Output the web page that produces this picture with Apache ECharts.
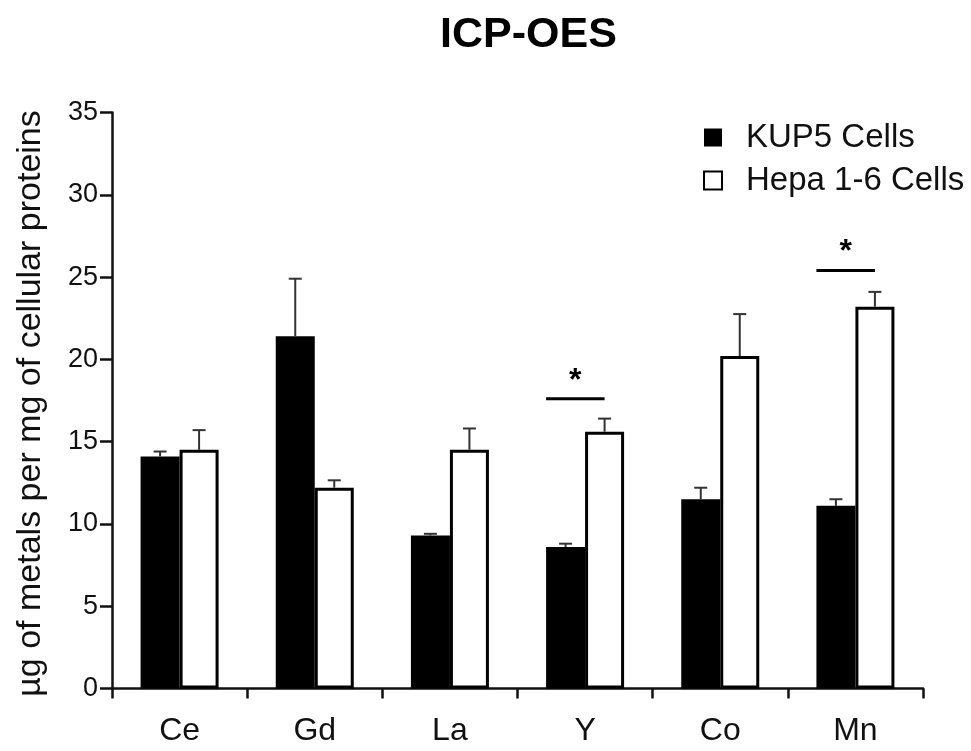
<!DOCTYPE html>
<html>
<head>
<meta charset="utf-8">
<title>ICP-OES</title>
<script src="https://cdn.jsdelivr.net/npm/echarts@6/dist/echarts.min.js"></script>
<style>
  html, body { margin: 0; padding: 0; background: #fff; }
  #chart { width: 971px; height: 751px; }
</style>
</head>
<body>
<div id="chart"></div>
<script>
const categories = ['Ce', 'Gd', 'La', 'Y', 'Co', 'Mn'];
const kup5Values = [14.1, 21.4, 9.3, 8.6, 11.5, 11.1];
const kup5Sd = [0.3, 3.5, 0.1, 0.2, 0.7, 0.4];
const hepaValues = [14.5, 12.2, 14.5, 15.6, 20.2, 23.2];
const hepaSd = [1.2, 0.45, 1.3, 0.8, 2.55, 0.9];
// significance bars: category and height of the bar
const sigCategories = ['Y', 'Mn'];
const sigValues = [17.6, 25.4];

const FONT = '"Liberation Sans", Arial, sans-serif';
const BAR_W = 39;

const chart = echarts.init(document.getElementById('chart'), null, { renderer: 'canvas' });

function errorBars(offset) {
  return function (params, api) {
    const i = api.value(0);
    const v = api.value(1);
    const sd = api.value(2);
    const base = api.coord([i, v]);
    const top = api.coord([i, v + sd]);
    const x = base[0] + offset;
    const style = { stroke: '#333', lineWidth: 2 };
    return {
      type: 'group',
      children: [
        { type: 'line', shape: { x1: x, y1: base[1], x2: x, y2: top[1] }, style },
        { type: 'line', shape: { x1: x - 6.5, y1: top[1], x2: x + 6.5, y2: top[1] }, style },
      ],
    };
  };
}

function sigBar(params, api) {
  const p = api.coord([api.value(0), api.value(1)]);
  const x1 = p[0] - BAR_W;
  const x2 = p[0] + BAR_W / 2;
  return {
    type: 'group',
    children: [
      { type: 'line', shape: { x1, y1: p[1], x2, y2: p[1] }, style: { stroke: '#000', lineWidth: 3 } },
      {
        type: 'text',
        x: (x1 + x2) / 2,
        y: p[1] - 18,
        style: { text: '*', font: 'bold 32px ' + FONT, align: 'center', verticalAlign: 'middle', fill: '#000' },
      },
    ],
  };
}

const option = {
  animation: false,
  backgroundColor: '#fff',
  title: {
    text: 'ICP-OES',
    left: 435,
    top: 9,
    textStyle: { fontFamily: FONT, fontSize: 43, fontWeight: 'bold', color: '#000' },
  },
  legend: {
    orient: 'vertical',
    left: 698,
    top: 114.5,
    itemWidth: 18,
    itemHeight: 18,
    itemGap: 7,
    icon: 'rect',
    textStyle: { fontFamily: FONT, fontSize: 33, color: '#111', padding: [2, 0, 0, 19], lineHeight: 34 },
    data: [
      { name: 'KUP5 Cells' },
      { name: 'Hepa 1-6 Cells', itemStyle: { borderWidth: 2 } },
    ],
  },
  grid: { left: 112, right: 48, top: 112.5, bottom: 62.5, containLabel: false },
  xAxis: {
    type: 'category',
    data: categories,
    axisLine: { lineStyle: { color: '#111', width: 2.5 } },
    axisTick: { show: true, length: 10, lineStyle: { color: '#111', width: 2.5 } },
    axisLabel: { fontFamily: FONT, fontSize: 32, color: '#111', margin: 27 },
    splitLine: { show: false },
  },
  yAxis: {
    type: 'value',
    min: 0,
    max: 35,
    interval: 5,
    name: 'µg of metals per mg of cellular proteins',
    nameLocation: 'middle',
    nameGap: 64,
    nameTextStyle: { fontFamily: FONT, fontSize: 34, color: '#111', padding: [0, 6, 0, 0] },
    axisLine: { show: true, lineStyle: { color: '#111', width: 2.5 } },
    axisTick: { show: true, length: 12, lineStyle: { color: '#111', width: 2.5 } },
    axisLabel: { fontFamily: FONT, fontSize: 27, color: '#111', margin: 14 },
    splitLine: { show: false },
  },
  series: [
    {
      name: 'KUP5 Cells',
      type: 'bar',
      data: kup5Values,
      barWidth: BAR_W,
      barGap: '0%',
      itemStyle: { color: '#000' },
      z: 2,
    },
    {
      name: 'Hepa 1-6 Cells',
      type: 'bar',
      data: hepaValues,
      barWidth: BAR_W,
      barGap: '0%',
      itemStyle: { color: '#fff', borderColor: '#000', borderWidth: 3 },
      z: 2,
    },
    {
      type: 'custom',
      renderItem: errorBars(-BAR_W / 2),
      data: kup5Values.map((v, i) => [i, v, kup5Sd[i]]),
      encode: { x: 0, y: 1 },
      z: 3,
      silent: true,
    },
    {
      type: 'custom',
      renderItem: errorBars(BAR_W / 2),
      data: hepaValues.map((v, i) => [i, v, hepaSd[i]]),
      encode: { x: 0, y: 1 },
      z: 3,
      silent: true,
    },
    {
      type: 'custom',
      renderItem: sigBar,
      data: sigCategories.map((c, k) => [categories.indexOf(c), sigValues[k]]),
      encode: { x: 0, y: 1 },
      z: 3,
      silent: true,
    },
  ],
};

chart.setOption(option);
</script>
</body>
</html>
